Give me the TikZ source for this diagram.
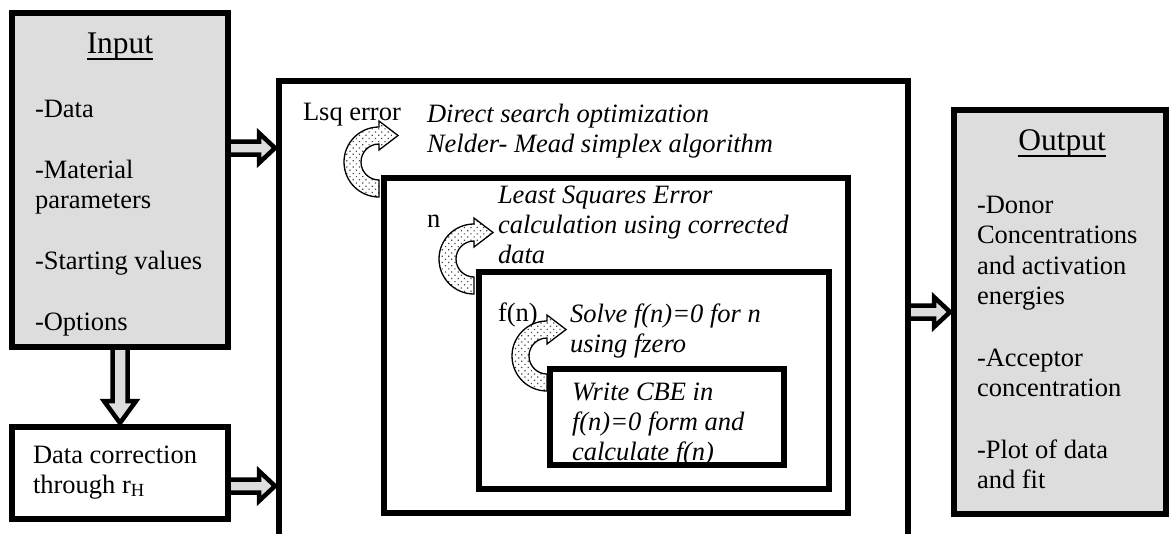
\documentclass[tikz,border=0pt]{standalone}
\usepackage{fontspec}
\setmainfont{Liberation Serif}
\usetikzlibrary{patterns.meta,calc}
\definecolor{boxgray}{RGB}{221,221,221}
\definecolor{dotgray}{RGB}{70,70,70}
\tikzset{
 box/.style={draw=black, line width=5.5pt, rectangle, inner sep=0pt, outer sep=0pt, line join=miter},
 grayfill/.style={fill=boxgray},
 txt/.style={anchor=base west, inner sep=0pt, outer sep=0pt, font=\fontsize{26.5}{30.5}\selectfont},
 itxt/.style={txt, font=\fontsize{26.5}{30.5}\selectfont\itshape},
 ttl/.style={anchor=base, inner sep=0pt, outer sep=0pt, font=\fontsize{31.5}{36}\selectfont},
 uline/.style={line width=1.5pt},
 blk/.style={draw=black, fill=boxgray, line width=4.5pt, line join=miter},
 carr/.style={draw=black, line width=1.3pt, preaction={fill=white}, pattern={Dots[distance=4.5pt, radius=0.85pt, angle=45]}, pattern color=dotgray},
}
\newcommand\harrow[2]{\path[blk] let \p1=(#1), \p2=(#2) in
  (\x1,\y1+6.5pt) -- (\x2-20pt,\y1+6.5pt) -- (\x2-20pt,\y1+15pt) -- (\x2-4pt,\y1)
  -- (\x2-20pt,\y1-15pt) -- (\x2-20pt,\y1-6.5pt) -- (\x1,\y1-6.5pt);}
\newcommand\varrow[2]{\path[blk] let \p1=(#1), \p2=(#2) in
  (\x1+7.5pt,\y1) -- (\x1+7.5pt,\y2+26pt) -- (\x1+16pt,\y2+26pt) -- (\x1,\y2+4pt)
  -- (\x1-16pt,\y2+26pt) -- (\x1-7.5pt,\y2+26pt) -- (\x1-7.5pt,\y1);}
\newcommand\curvarrow[2]{\path[carr] (#1,#2+35) arc[start angle=90, end angle=270, radius=35]
  -- ++(0,-6) -- (#1+19,#2-26.5) -- (#1,#2-12) -- (#1,#2-18)
  arc[start angle=270, end angle=90, radius=18] -- cycle;}
\begin{document}
\begin{tikzpicture}[x=1pt,y=-1pt]
\useasboundingbox (0,0) rectangle (1169,533);
% box geometry (not drawn yet)
\path (120,180) node[box, draw=none, minimum width=216pt, minimum height=334pt] (in) {};
\path (120,473) node[box, draw=none, minimum width=216pt, minimum height=92pt] (dc) {};
\path (1060,312) node[box, draw=none, minimum width=212pt, minimum height=404pt] (out) {};
\path (593.5,320) node[box, draw=none, minimum width=629pt, minimum height=478pt] (main) {};
\coordinate (yIn) at (0,148);
\coordinate (yDc) at (0,486);
\coordinate (yOut) at (0,312);
% connectors
\harrow{in.east |- yIn}{main.west |- yIn}
\harrow{dc.east |- yDc}{main.west |- yDc}
\harrow{main.east |- yOut}{out.west |- yOut}
\varrow{in.south}{dc.north}
% curved arrows
\curvarrow{379}{162}
\curvarrow{474}{259}
\curvarrow{547}{356}
% boxes
\node[box, grayfill, minimum width=216pt, minimum height=334pt] (inB) at (in) {};
\node[box, minimum width=216pt, minimum height=92pt] (dcB) at (dc) {};
\node[box, grayfill, minimum width=212pt, minimum height=404pt] (outB) at (out) {};
\draw[line width=5.5pt, line join=miter] (main.south west) |- (main.north east) -- (main.south east);
\node[box, minimum width=464pt, minimum height=335pt] (l2) at (616,345.5) {};
\node[box, minimum width=350pt, minimum height=217pt] (l3) at (654,380.5) {};
\node[box, minimum width=234pt, minimum height=96pt] (l4) at (667,417) {};
% Input texts
\node[ttl] (tIn) at (120,53) {Input};
\draw[uline] ($(tIn.base west)+(0,6)$) -- ($(tIn.base east)+(0,6)$);
\node[txt] (i1) at (35,117) {-Data};
\node[txt] (i2) at (35,178) {-Material};
\node[txt] (i3) at (35,208.5) {parameters};
\node[txt] (i4) at (35,269.5) {-Starting values};
\node[txt] (i5) at (35,330.5) {-Options};
% data correction
\node[txt] (d1) at (33,463) {Data correction};
\node[txt] (d2) at (33,493) {through r\textsubscript{H}};
% output
\node[ttl] (tOut) at (1062,150) {Output};
\draw[uline] ($(tOut.base west)+(0,6)$) -- ($(tOut.base east)+(0,6)$);
\node[txt] (o1) at (977,213) {-Donor};
\node[txt] (o2) at (977,243.5) {Concentrations};
\node[txt] (o3) at (977,274) {and activation};
\node[txt] (o4) at (977,304.5) {energies};
\node[txt] (o5) at (977,366) {-Acceptor};
\node[txt] (o6) at (977,396.5) {concentration};
\node[txt] (o7) at (977,458) {-Plot of data};
\node[txt] (o8) at (977,488.5) {and fit};
% main texts
\node[txt] (lsq) at (303,120) {Lsq error};
\node[itxt] (m1) at (427,122) {Direct search optimization};
\node[itxt] (m2) at (427,152) {Nelder- Mead simplex algorithm};
\node[itxt] (m3) at (498,203) {Least Squares Error};
\node[itxt] (m4) at (498,233) {calculation using corrected};
\node[itxt] (m5) at (498,263) {data};
\node[txt] (nl) at (427,227) {n};
\node[txt] (fl) at (498,321) {f(n)};
\node[itxt] (m6) at (570,322) {Solve f(n)=0 for n};
\node[itxt] (m7) at (570,352) {using fzero};
\node[itxt] (m8) at (572,400) {Write CBE in};
\node[itxt] (m9) at (572,430) {f(n)=0 form and};
\node[itxt] (m10) at (572,460) {calculate f(n)};
\end{tikzpicture}
\end{document}
